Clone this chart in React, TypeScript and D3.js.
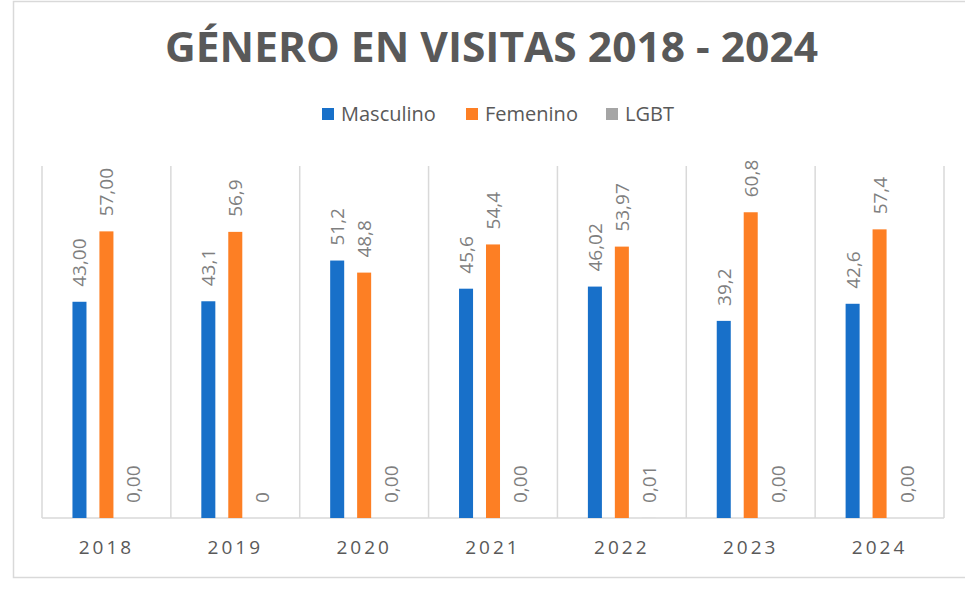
import React from 'react';
import * as d3 from 'd3';

const years = ['2018', '2019', '2020', '2021', '2022', '2023', '2024'];
const seriesNames = ['Masculino', 'Femenino', 'LGBT'];
const masculino = [43.0, 43.1, 51.2, 45.6, 46.02, 39.2, 42.6];
const femenino = [57.0, 56.9, 48.8, 54.4, 53.97, 60.8, 57.4];
const lgbt = [0, 0, 0, 0, 0.01, 0, 0];
const masculinoLabels = ['43,00', '43,1', '51,2', '45,6', '46,02', '39,2', '42,6'];
const femeninoLabels = ['57,00', '56,9', '48,8', '54,4', '53,97', '60,8', '57,4'];
const lgbtLabels = ['0,00', '0', '0,00', '0,00', '0,01', '0,00', '0,00'];
const colors = ['#1870c9', '#fd7f24', '#a5a5a5'];

const W = 965;
const H = 594;
const plot = { left: 42, right: 944, top: 166, bottom: 518 };
const font = "'Open Sans', 'DejaVu Sans', sans-serif";

export default function App() {
  const values = [masculino, femenino, lgbt];
  const labels = [masculinoLabels, femeninoLabels, lgbtLabels];

  const x = d3.scaleBand().domain(years).range([plot.left, plot.right]).padding(0);
  const inner = d3
    .scaleBand()
    .domain(seriesNames)
    .range([0, x.bandwidth()])
    .paddingInner(0.48)
    .paddingOuter(1.13);
  const y = d3.scaleLinear().domain([0, 70]).range([plot.bottom, plot.top]);

  const legendX = [322, 466, 606];

  return (
    <svg
      width={W}
      height={H}
      style={{ position: 'absolute', left: 0, top: 0, background: '#fff' }}
    >
      <rect x={0} y={0} width={W} height={H} fill="#fff" />
      <rect x={13.5} y={1.5} width={1000} height={576} fill="none" stroke="#d9d9d9" strokeWidth={1.5} />

      <text
        x={491.5}
        y={62}
        textAnchor="middle"
        fontFamily={font}
        fontWeight={700}
        fontSize={42}
        fill="#595959"
        textLength={653}
        lengthAdjust="spacingAndGlyphs"
      >
        GÉNERO EN VISITAS 2018 - 2024
      </text>

      {/* legend */}
      {seriesNames.map((s, i) => (
        <g key={s} transform={`translate(${legendX[i]},0)`}>
          <rect x={0} y={108} width={12} height={12} fill={colors[i]} />
          <text x={19} y={121} fontFamily={font} fontSize={20} fill="#595959">
            {s}
          </text>
        </g>
      ))}

      {/* vertical gridlines at category boundaries */}
      {years.map((yr) => (
        <line
          key={'g' + yr}
          x1={x(yr)}
          x2={x(yr)}
          y1={plot.top}
          y2={plot.bottom}
          stroke="#d9d9d9"
          strokeWidth={1.5}
        />
      ))}
      <line x1={plot.right} x2={plot.right} y1={plot.top} y2={plot.bottom} stroke="#d9d9d9" strokeWidth={1.5} />
      <line x1={plot.left} x2={plot.right} y1={plot.bottom} y2={plot.bottom} stroke="#d9d9d9" strokeWidth={1.5} />

      {/* bars + labels */}
      {years.map((yr, j) => (
        <g key={yr} transform={`translate(${x(yr)},0)`}>
          {seriesNames.map((s, i) => {
            const v = values[i][j];
            const bx = inner(s) as number;
            const bw = inner.bandwidth();
            const top = y(v);
            const cx = bx + bw / 2;
            const ly = top - 15;
            return (
              <g key={s}>
                <rect x={bx} y={top} width={bw} height={plot.bottom - top} fill={colors[i]} />
                <text
                  transform={`translate(${cx + 7},${ly}) rotate(-90)`}
                  fontFamily={font}
                  fontSize={19}
                  fill="#7f7f7f"
                >
                  {labels[i][j]}
                </text>
              </g>
            );
          })}
          <text
            x={x.bandwidth() / 2}
            y={554}
            textAnchor="middle"
            fontFamily={font}
            fontSize={19}
            letterSpacing={3}
            fill="#595959"
          >
            {yr}
          </text>
        </g>
      ))}
    </svg>
  );
}
